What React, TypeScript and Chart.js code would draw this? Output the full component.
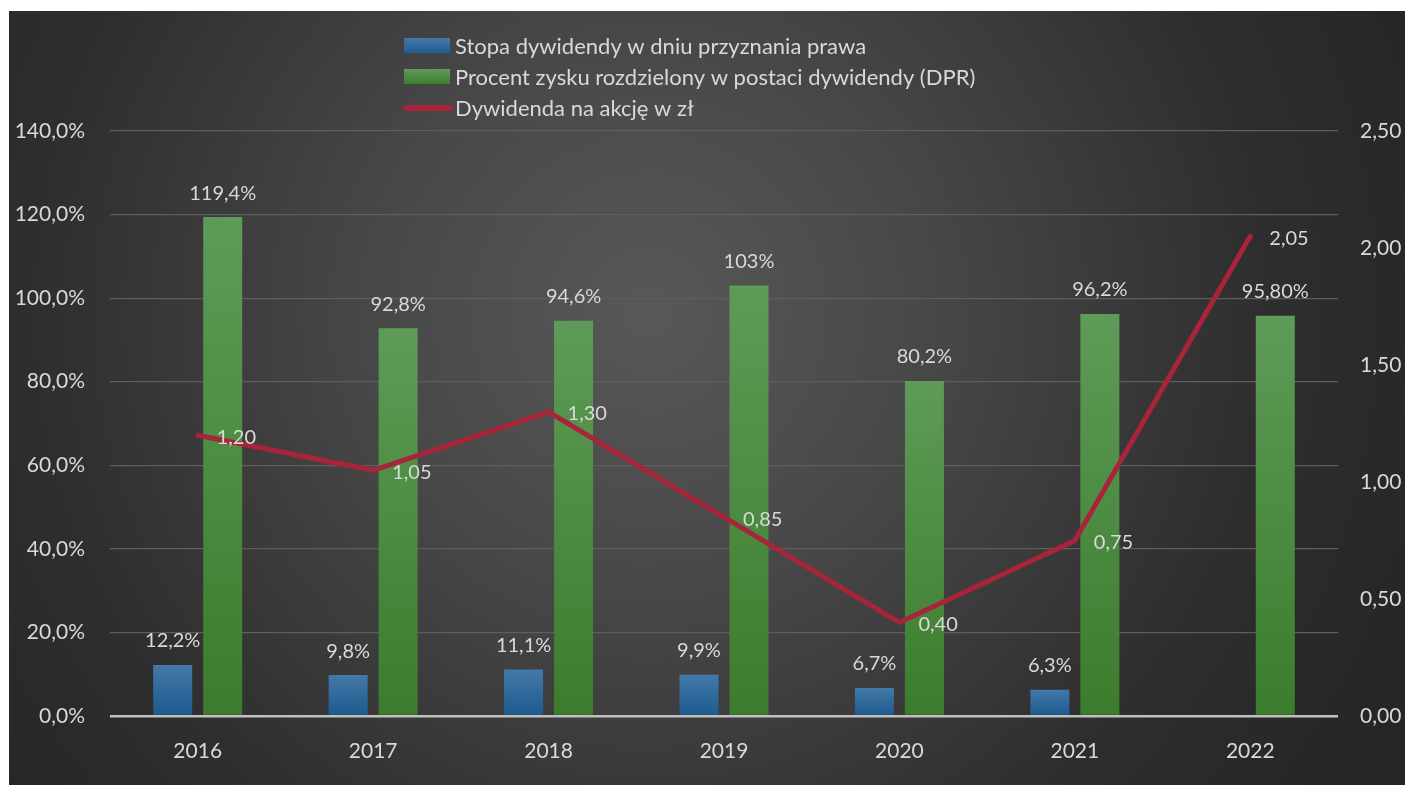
import React, { useEffect, useRef } from "react";
import { Chart, registerables } from "chart.js";

Chart.register(...registerables);

const years = ["2016", "2017", "2018", "2019", "2020", "2021", "2022"];
const yieldValues: (number | null)[] = [12.2, 9.8, 11.1, 9.9, 6.7, 6.3, null];
const yieldLabels = ["12,2%", "9,8%", "11,1%", "9,9%", "6,7%", "6,3%", ""];
const payoutValues = [119.4, 92.8, 94.6, 103, 80.2, 96.2, 95.8];
const payoutLabels = ["119,4%", "92,8%", "94,6%", "103%", "80,2%", "96,2%", "95,80%"];
const dividendValues = [1.2, 1.05, 1.3, 0.85, 0.4, 0.75, 2.05];
const dividendLabels = ["1,20", "1,05", "1,30", "0,85", "0,40", "0,75", "2,05"];
const leftTickLabels = ["0,0%", "20,0%", "40,0%", "60,0%", "80,0%", "100,0%", "120,0%", "140,0%"];
const rightTickLabels = ["0,00", "0,50", "1,00", "1,50", "2,00", "2,50"];
const seriesNames = [
  "Stopa dywidendy w dniu przyznania prawa",
  "Procent zysku rozdzielony w postaci dywidendy (DPR)",
  "Dywidenda na akcję w zł",
];

const FONT = "Lato, 'Open Sans', sans-serif";
const TEXT = "#d9d9d9";
const BLUE_TOP = "#4479a8";
const BLUE_BOTTOM = "#1c5a90";
const GREEN_TOP = "#5e9b58";
const GREEN_BOTTOM = "#3b7c2c";
const RED = "#a8243a";

function barGradient(top: string, bottom: string) {
  return (ctx: any) => {
    const chart = ctx.chart;
    const y = chart.scales && chart.scales.y;
    if (!y || ctx.type !== "data") return bottom;
    const v = ctx.raw;
    if (v == null) return bottom;
    const y0 = y.getPixelForValue(v);
    const y1 = y.getPixelForValue(0);
    if (!isFinite(y0) || !isFinite(y1) || y1 - y0 < 1) return bottom;
    const g = chart.ctx.createLinearGradient(0, y0, 0, y1);
    g.addColorStop(0, top);
    g.addColorStop(1, bottom);
    return g;
  };
}

const backgroundPlugin = {
  id: "bgGradient",
  beforeDraw(chart: any) {
    const { ctx, width, height } = chart;
    ctx.save();
    const g = ctx.createRadialGradient(640, 300, 0, 640, 300, 820);
    g.addColorStop(0, "#585858");
    g.addColorStop(0.35, "#474747");
    g.addColorStop(0.75, "#2e2e2e");
    g.addColorStop(1, "#262626");
    ctx.fillStyle = g;
    ctx.fillRect(0, 0, width, height);
    ctx.restore();
  },
};

const legendPlugin = {
  id: "customLegend",
  afterDraw(chart: any) {
    const { ctx } = chart;
    ctx.save();
    const x0 = 395;
    const rows = [35, 66, 97];
    ctx.font = `22px ${FONT}`;
    ctx.textBaseline = "middle";
    ctx.textAlign = "left";
    let g = ctx.createLinearGradient(0, rows[0] - 8, 0, rows[0] + 8);
    g.addColorStop(0, BLUE_TOP);
    g.addColorStop(1, BLUE_BOTTOM);
    ctx.fillStyle = g;
    ctx.fillRect(x0, rows[0] - 8, 46, 15);
    g = ctx.createLinearGradient(0, rows[1] - 8, 0, rows[1] + 8);
    g.addColorStop(0, GREEN_TOP);
    g.addColorStop(1, GREEN_BOTTOM);
    ctx.fillStyle = g;
    ctx.fillRect(x0, rows[1] - 8, 46, 15);
    ctx.strokeStyle = RED;
    ctx.lineWidth = 6;
    ctx.lineCap = "round";
    ctx.beginPath();
    ctx.moveTo(x0 + 2, rows[2]);
    ctx.lineTo(x0 + 46, rows[2]);
    ctx.stroke();
    ctx.fillStyle = TEXT;
    seriesNames.forEach((name, i) => {
      ctx.fillText(name, x0 + 51, rows[i] + 1);
    });
    ctx.restore();
  },
};

const labelsPlugin = {
  id: "valueLabels",
  afterDatasetsDraw(chart: any) {
    const { ctx } = chart;
    ctx.save();
    ctx.font = `20px ${FONT}`;
    ctx.fillStyle = TEXT;
    ctx.textBaseline = "middle";
    const barSets = [
      { index: 0, labels: yieldLabels },
      { index: 1, labels: payoutLabels },
    ];
    ctx.textAlign = "center";
    barSets.forEach(({ index, labels }) => {
      const meta = chart.getDatasetMeta(index);
      meta.data.forEach((el: any, i: number) => {
        const text = labels[i];
        if (!text || chart.data.datasets[index].data[i] == null) return;
        ctx.fillText(text, el.x, el.y - 24);
      });
    });
    ctx.textAlign = "left";
    const lineMeta = chart.getDatasetMeta(2);
    lineMeta.data.forEach((el: any, i: number) => {
      const text = dividendLabels[i];
      if (!text) return;
      ctx.fillText(text, el.x + 19, el.y + 2);
    });
    ctx.restore();
  },
};

export default function App() {
  const canvasRef = useRef<HTMLCanvasElement | null>(null);

  useEffect(() => {
    const canvas = canvasRef.current;
    if (!canvas) return;
    const chart = new Chart(canvas, {
      type: "bar",
      data: {
        labels: years,
        datasets: [
          {
            type: "bar",
            label: seriesNames[0],
            data: yieldValues,
            backgroundColor: barGradient(BLUE_TOP, BLUE_BOTTOM),
            yAxisID: "y",
            order: 1,
            categoryPercentage: 0.57,
            barPercentage: 0.78,
          },
          {
            type: "bar",
            label: seriesNames[1],
            data: payoutValues,
            backgroundColor: barGradient(GREEN_TOP, GREEN_BOTTOM),
            yAxisID: "y",
            order: 2,
            categoryPercentage: 0.57,
            barPercentage: 0.78,
          },
          {
            type: "line",
            label: seriesNames[2],
            data: dividendValues,
            borderColor: RED,
            backgroundColor: RED,
            borderWidth: 5,
            pointRadius: 0,
            borderJoinStyle: "round",
            borderCapStyle: "round",
            tension: 0,
            yAxisID: "y1",
            order: 0,
          } as any,
        ],
      },
      options: {
        animation: false,
        responsive: false,
        maintainAspectRatio: false,
        devicePixelRatio: 1,
        layout: { padding: { top: 120, left: 0, right: 0, bottom: 0 } },
        plugins: {
          legend: { display: false },
          tooltip: { enabled: false },
          title: { display: false },
        },
        scales: {
          x: {
            grid: { display: false, drawTicks: false },
            border: { display: false },
            ticks: {
              color: TEXT,
              font: { family: FONT, size: 21 },
              padding: 23,
              maxRotation: 0,
            },
            afterFit(scale: any) {
              scale.height = 69;
            },
          },
          y: {
            position: "left",
            min: 0,
            max: 140,
            ticks: {
              stepSize: 20,
              color: TEXT,
              font: { family: FONT, size: 21 },
              padding: 25,
              callback: (_v: any, i: number) => leftTickLabels[i],
            },
            grid: {
              drawTicks: false,
              color: (c: any) => (c.tick && c.tick.value === 0 ? "#c0c0c0" : "#5e5e5e"),
              lineWidth: (c: any) => (c.tick && c.tick.value === 0 ? 2.5 : 1.2),
            },
            border: { display: false },
            afterFit(scale: any) {
              scale.width = 101;
            },
          },
          y1: {
            position: "right",
            min: 0,
            max: 2.5,
            ticks: {
              stepSize: 0.5,
              color: TEXT,
              font: { family: FONT, size: 21 },
              padding: 22,
              callback: (_v: any, i: number) => rightTickLabels[i],
            },
            grid: { display: false, drawTicks: false },
            border: { display: false },
            afterFit(scale: any) {
              scale.width = 67;
            },
          },
        },
      },
      plugins: [backgroundPlugin, legendPlugin, labelsPlugin],
    });
    return () => chart.destroy();
  }, []);

  return (
    <div
      style={{
        position: "absolute",
        left: 9,
        top: 11,
        width: 1396,
        height: 774,
        overflow: "hidden",
      }}
    >
      <canvas ref={canvasRef} width={1396} height={774} style={{ width: 1396, height: 774, display: "block" }} />
    </div>
  );
}
